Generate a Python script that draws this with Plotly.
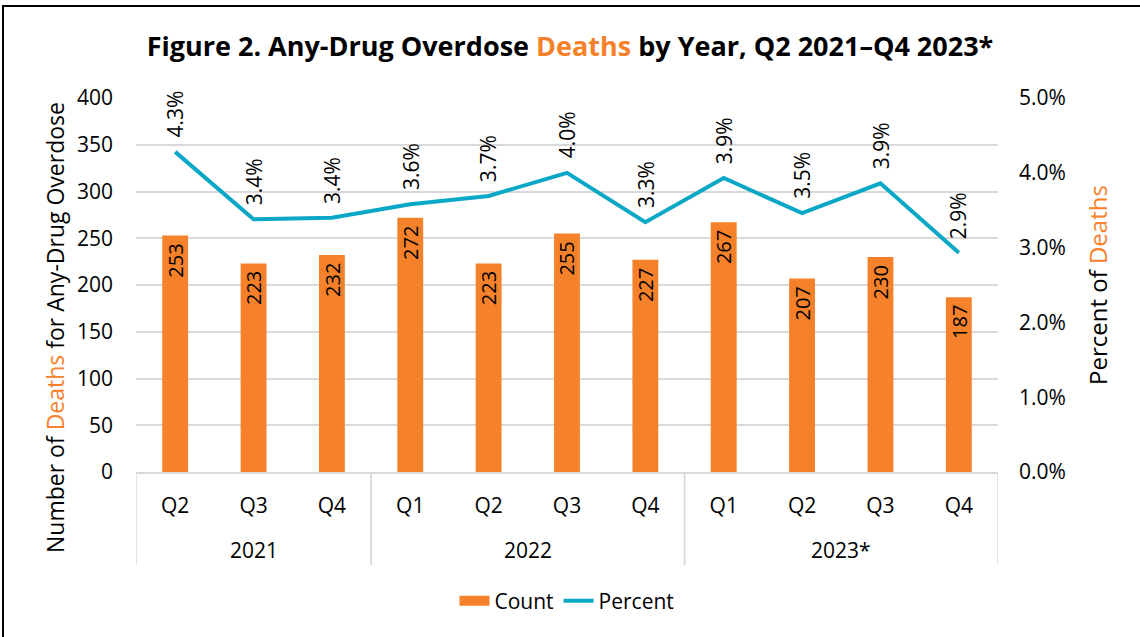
import plotly.graph_objects as go

years = ["2021", "2021", "2021", "2022", "2022", "2022", "2022", "2023*", "2023*", "2023*", "2023*"]
quarters = ["Q2", "Q3", "Q4", "Q1", "Q2", "Q3", "Q4", "Q1", "Q2", "Q3", "Q4"]
counts = [253, 223, 232, 272, 223, 255, 227, 267, 207, 230, 187]
percents = [0.0428, 0.0338, 0.0340, 0.0358, 0.0369, 0.0400, 0.0334, 0.0393, 0.0346, 0.0386, 0.0293]

ORANGE = "#F5822A"
TEAL = "#0AA8C6"
FONT = "'Open Sans', sans-serif"
GRID = "#D9D9D9"
TICK = 21

idx = list(range(len(quarters)))

fig = go.Figure()
fig.add_trace(go.Bar(
    x=idx, y=counts, name="Count", marker=dict(color=ORANGE, line=dict(width=0)),
    width=0.33, showlegend=False,
))
# legend entry for Count drawn as a wide block
fig.add_trace(go.Scatter(
    x=[None], y=[None], name="Count", mode="lines",
    line=dict(color=ORANGE, width=14),
))
fig.add_trace(go.Scatter(
    x=idx, y=percents, name="Percent", mode="lines", yaxis="y2",
    line=dict(color=TEAL, width=4),
))

# rotated count labels inside bar tops
for i, c in zip(idx, counts):
    fig.add_annotation(
        x=i, y=c, xref="x", yref="y", text=str(c), textangle=-90,
        showarrow=False, yanchor="top", xanchor="center", yshift=-6,
        font=dict(size=20, color="black", family=FONT),
    )

# rotated percent labels above line points
for i, p in zip(idx, percents):
    fig.add_annotation(
        x=i, y=p, xref="x", yref="y2", text=f"{p*100:.1f}%", textangle=-90,
        showarrow=False, yanchor="bottom", xanchor="center", yshift=12,
        font=dict(size=TICK, color="black", family=FONT),
    )

# year group labels and dividers
groups = []
for i, yv in enumerate(years):
    if not groups or groups[-1][0] != yv:
        groups.append([yv, i, i])
    else:
        groups[-1][2] = i
Y_YEAR = (472 - 550) / 374
Y_DIV = (472 - 565) / 374
for yv, a, b in groups:
    fig.add_annotation(
        x=(a + b) / 2, y=Y_YEAR, xref="x", yref="paper", text=yv, showarrow=False,
        xanchor="center", yanchor="middle", font=dict(size=TICK, family=FONT, color="black"),
    )
    for xv in (a - 0.5, b + 0.5):
        fig.add_shape(type="line", xref="x", yref="paper", x0=xv, x1=xv, y0=Y_DIV, y1=0,
                      line=dict(color=GRID, width=1.5))

fig.update_layout(
    width=1140, height=637,
    margin=dict(l=136, r=142, t=98, b=165),
    paper_bgcolor="white", plot_bgcolor="white",
    font=dict(family=FONT, size=TICK, color="black"),
    title=dict(
        text="<b>Figure 2. Any-Drug Overdose <span style='color:%s'>Deaths</span> by Year, Q2 2021–Q4 2023*</b>" % ORANGE,
        x=0.5, xanchor="center", y=1 - 47 / 637, yanchor="middle",
        font=dict(size=27, family=FONT, color="black"),
    ),
    showlegend=True,
    legend=dict(orientation="h", x=0.5, xanchor="center", y=(472 - 601) / 374, yanchor="middle",
                font=dict(size=TICK, family=FONT), traceorder="normal"),
    xaxis=dict(
        range=[-0.5, 10.5], tickvals=idx, ticktext=quarters, showgrid=False,
        showline=True, linecolor=GRID, linewidth=1.5, zeroline=False,
        ticks="", ticklabelstandoff=14, tickfont=dict(size=TICK, family=FONT),
    ),
    yaxis=dict(
        range=[0, 400], dtick=50, showgrid=True, gridcolor=GRID, gridwidth=1.5,
        zeroline=False, showline=False, ticks="", ticklabelstandoff=22,
        tickfont=dict(size=TICK, family=FONT),
    ),
    yaxis2=dict(
        range=[0, 0.05], dtick=0.01, tickformat=".1%", overlaying="y", side="right",
        showgrid=False, zeroline=False, showline=False, ticks="", ticklabelstandoff=20,
        tickfont=dict(size=TICK, family=FONT),
    ),
)

# axis titles
fig.add_annotation(
    text="Number of <span style='color:%s'>Deaths</span> for Any-Drug Overdose" % ORANGE,
    xref="paper", yref="paper", x=(55 - 136) / 862, y=(472 - 328) / 374,
    textangle=-90, showarrow=False, xanchor="center", yanchor="middle",
    font=dict(size=23, family=FONT, color="black"),
)
fig.add_annotation(
    text="Percent of <span style='color:%s'>Deaths</span>" % ORANGE,
    xref="paper", yref="paper", x=(1097 - 136) / 862, y=(472 - 285) / 374,
    textangle=-90, showarrow=False, xanchor="center", yanchor="middle",
    font=dict(size=24, family=FONT, color="black"),
)

# chart border
fig.add_shape(
    type="rect", xref="paper", yref="paper",
    x0=(3 - 136) / 862, x1=(1150 - 136) / 862,
    y0=(472 - 650) / 374, y1=(472 - 6) / 374,
    line=dict(color="black", width=2), fillcolor="rgba(0,0,0,0)", layer="below",
)

fig.write_html("out.html")
